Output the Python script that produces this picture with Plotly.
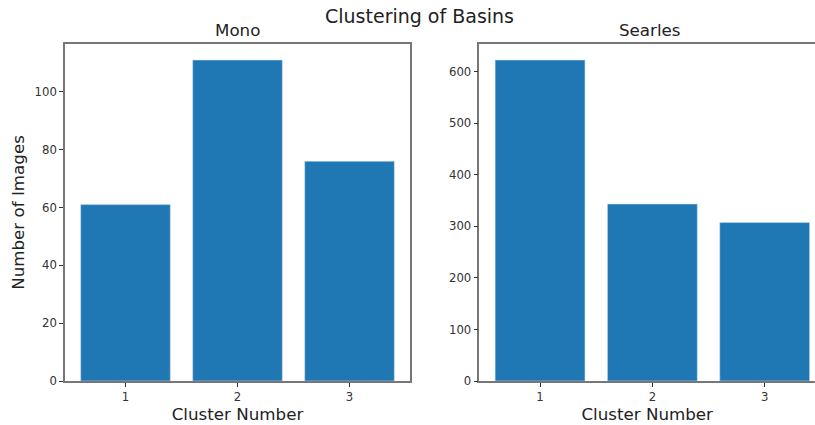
import plotly.graph_objects as go

clusters = [1, 2, 3]
mono_counts = [61, 111, 76]
searles_counts = [622, 343, 307]
mono_ticks = [0, 20, 40, 60, 80, 100]
searles_ticks = [0, 100, 200, 300, 400, 500, 600]

W, H = 815, 425
BAR = "#1f77b4"
FONT = "DejaVu Sans"
LBL = 16.7

fig = go.Figure()
fig.add_trace(go.Bar(x=clusters, y=mono_counts, width=0.8, marker=dict(color=BAR, line=dict(color="rgba(200,225,245,0.8)", width=0.7)),
                     xaxis="x", yaxis="y", showlegend=False))
fig.add_trace(go.Bar(x=clusters, y=searles_counts, width=0.8, marker=dict(color=BAR, line=dict(color="rgba(200,225,245,0.8)", width=0.7)),
                     xaxis="x2", yaxis="y2", showlegend=False))

ydom = [44 / H, 381 / H]
common_axis = dict(showgrid=False, zeroline=False, showline=True, linecolor="#777777", linewidth=1.5,
                   mirror=True, ticks="outside", ticklen=4, tickwidth=1, tickcolor="#333333", automargin=False,
                   tickfont=dict(family=FONT, size=11.7, color="#333333"))

fig.update_layout(
    width=W, height=H,
    margin=dict(l=0, r=0, t=0, b=0),
    paper_bgcolor="white", plot_bgcolor="white",
    font=dict(family=FONT, color="#222222"),
    bargap=0.2,
    xaxis=dict(domain=[65 / W, 410 / W], range=[0.46, 3.54], tickvals=clusters, ticktext=[str(c) for c in clusters],
               anchor="y", title=dict(text="Cluster Number", font=dict(family=FONT, size=LBL, color="#222222"), standoff=5),
               **common_axis),
    yaxis=dict(domain=ydom, range=[0, max(mono_counts) * 1.05], tickvals=mono_ticks, anchor="x",
               title=dict(text="Number of Images", font=dict(family=FONT, size=LBL, color="#222222"), standoff=6),
               **common_axis),
    xaxis2=dict(domain=[479.4 / W, 1.0], range=[0.46, 3.448], tickvals=clusters, ticktext=[str(c) for c in clusters],
                anchor="y2", title=dict(text="Cluster Number", font=dict(family=FONT, size=LBL, color="#222222"), standoff=5),
                **common_axis),
    yaxis2=dict(domain=ydom, range=[0, max(searles_counts) * 1.05], tickvals=searles_ticks, anchor="x2",
                **common_axis),
    annotations=[
        dict(text="Clustering of Basins", x=419 / W, y=1 - 16 / H, xref="paper", yref="paper",
             xanchor="center", yanchor="middle", showarrow=False, font=dict(family=FONT, size=19, color="#222222")),
        dict(text="Mono", x=(65 + 410) / 2 / W, y=1 - 30 / H, xref="paper", yref="paper",
             xanchor="center", yanchor="middle", showarrow=False, font=dict(family=FONT, size=LBL, color="#222222")),
        dict(text="Searles", x=650 / W, y=1 - 30 / H, xref="paper", yref="paper",
             xanchor="center", yanchor="middle", showarrow=False, font=dict(family=FONT, size=LBL, color="#222222")),
    ],
)

fig.write_html("out.html", config={"displayModeBar": False},
               post_script="document.body.style.margin='0';document.body.style.overflow='hidden';")
